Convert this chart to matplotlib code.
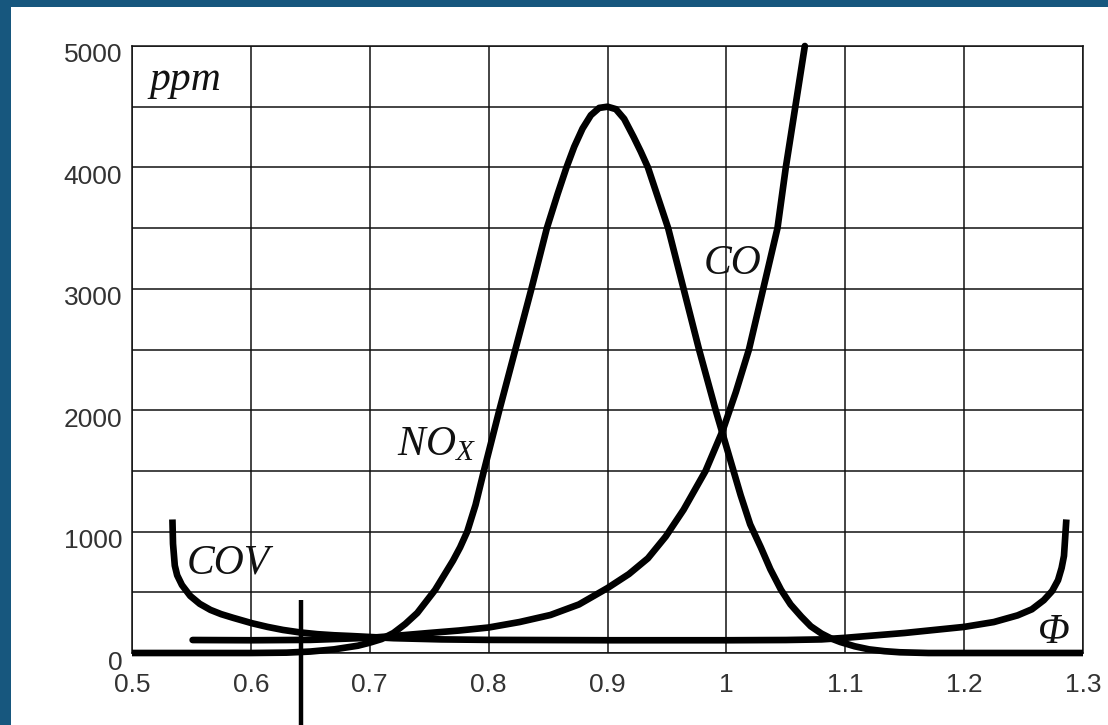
import matplotlib
matplotlib.use("Agg")
import matplotlib.pyplot as plt
import matplotlib.transforms as mtransforms
from matplotlib.patches import Rectangle

# ---- data ----
x_ticks = [0.5, 0.6, 0.7, 0.8, 0.9, 1.0, 1.1, 1.2, 1.3]
x_tick_labels = ["0.5", "0.6", "0.7", "0.8", "0.9", "1", "1.1", "1.2", "1.3"]
y_ticks = [0, 1000, 2000, 3000, 4000, 5000]
y_tick_labels = ["0", "1000", "2000", "3000", "4000", "5000"]

nox_phi = [0.50, 0.60, 0.63, 0.65, 0.67, 0.69, 0.70, 0.71, 0.72, 0.73, 0.74,
           0.755, 0.77, 0.776, 0.782, 0.789, 0.7955, 0.809, 0.8225, 0.836,
           0.849, 0.858, 0.8655, 0.872, 0.879, 0.886, 0.893, 0.900, 0.907,
           0.914, 0.922, 0.928, 0.934, 0.951, 0.964, 0.977, 0.991, 1.006,
           1.012, 1.020, 1.029, 1.037, 1.046, 1.054, 1.063, 1.071, 1.08,
           1.088, 1.096, 1.108, 1.12, 1.133, 1.146, 1.17, 1.30]
nox_ppm = [0, 0, 3, 12, 30, 60, 85, 115, 165, 240, 330,
           520, 760, 870, 1000, 1220, 1480, 2000, 2500, 3000,
           3500, 3780, 4000, 4170, 4320, 4430, 4490, 4500, 4480,
           4400, 4250, 4130, 4000, 3500, 3000, 2500, 2000, 1500,
           1300, 1060, 870, 690, 520, 400, 300, 220, 160,
           120, 90, 55, 30, 15, 6, 0, 0]

co_phi = [0.551, 0.60, 0.65, 0.70, 0.72, 0.75, 0.775, 0.80, 0.826, 0.852,
          0.876, 0.90, 0.918, 0.934, 0.949, 0.964, 0.9825, 0.997, 1.008,
          1.019, 1.031, 1.043, 1.050, 1.058, 1.066]
co_ppm = [107, 105, 108, 125, 140, 165, 185, 210, 255, 313,
          400, 535, 650, 780, 960, 1180, 1500, 1835, 2150,
          2500, 3000, 3500, 4000, 4500, 5000]

cov_phi = [0.534, 0.5345, 0.536, 0.538, 0.542, 0.549, 0.557, 0.566, 0.575,
           0.585, 0.601, 0.614, 0.627, 0.641, 0.656, 0.670, 0.684, 0.70,
           0.72, 0.76, 0.80, 0.90, 1.00, 1.05, 1.08, 1.10, 1.125, 1.15,
           1.175, 1.20, 1.225, 1.245, 1.257, 1.267, 1.274, 1.279, 1.282,
           1.284, 1.285, 1.286]
cov_ppm = [1100, 900, 720, 640, 560, 470, 405, 355, 320,
           290, 245, 215, 190, 170, 155, 146, 140, 132,
           122, 112, 108, 105, 105, 107, 112, 125, 145, 165,
           190, 215, 255, 310, 360, 435, 510, 600, 700,
           800, 950, 1100]

marker_phi = 0.642
marker_ppm = [436, -620]

# ---- figure ----
W, H, DPI = 1108, 725, 100
plt.rcParams["mathtext.fontset"] = "custom"
plt.rcParams["mathtext.it"] = "Liberation Serif:italic"
plt.rcParams["mathtext.rm"] = "Liberation Serif"

fig = plt.figure(figsize=(W / DPI, H / DPI), dpi=DPI)
fig.patch.set_facecolor("#17577e")
fig.patches.append(Rectangle((11 / W, 0), 1 - 11 / W, (H - 7) / H,
                             transform=fig.transFigure, facecolor="white",
                             edgecolor="none", zorder=-10))

ax = fig.add_axes([132 / W, (H - 653) / H, (1083 - 132) / W, (653 - 46) / H])
ax.set_zorder(5)
ax.set_facecolor("white")
ax.set_xlim(0.5, 1.3)
ax.set_ylim(0, 5000)

ax.set_xticks(x_ticks)
ax.set_xticklabels(x_tick_labels)
ax.set_yticks(y_ticks)
ax.set_yticklabels(y_tick_labels)
ax.set_yticks(list(range(500, 5000, 1000)), minor=True)

ax.grid(True, which="both", color="#111111", linewidth=1.1)
ax.set_axisbelow(True)
for s in ax.spines.values():
    s.set_color("#111111")
    s.set_linewidth(1.1)

ax.tick_params(axis="x", which="both", length=0, pad=14.5, labelcolor="#333333")
ax.tick_params(axis="y", which="both", length=0, pad=7, labelcolor="#333333")
for lab in ax.get_xticklabels() + ax.get_yticklabels():
    lab.set_fontfamily("Liberation Sans")
    lab.set_fontsize(19)
offset = mtransforms.ScaledTranslation(0, -7 / DPI, fig.dpi_scale_trans)
for lab in ax.get_yticklabels():
    lab.set_transform(lab.get_transform() + offset)

lw = 4.8
ax.plot(nox_phi, nox_ppm, color="black", lw=lw, clip_on=False,
        solid_capstyle="butt", solid_joinstyle="round", zorder=3)
ax.plot(co_phi, co_ppm, color="black", lw=lw, clip_on=False,
        solid_capstyle="round", solid_joinstyle="round", zorder=3)
ax.plot(cov_phi, cov_ppm, color="black", lw=lw, clip_on=False,
        solid_capstyle="butt", solid_joinstyle="round", zorder=3)
ax.plot([marker_phi, marker_phi], marker_ppm, color="black", lw=3.2,
        clip_on=False, solid_capstyle="butt", zorder=3)

lbl = dict(family="Liberation Serif", style="italic", size=30, color="#111111")
ax.text(0.515, 4634, "ppm", va="baseline", ha="left", **lbl)
ax.text(0.546, 658, "COV", va="baseline", ha="left", **lbl)
ax.text(0.981, 3119, "CO", va="baseline", ha="left", **lbl)
ax.text(0.7232, 1630, r"$NO_X$", va="baseline", ha="left", size=30,
        color="#111111")
ax.text(1.2756, 80, "Φ", va="baseline", ha="center", **lbl)

fig.savefig("out.png", dpi=DPI, facecolor=fig.get_facecolor())
